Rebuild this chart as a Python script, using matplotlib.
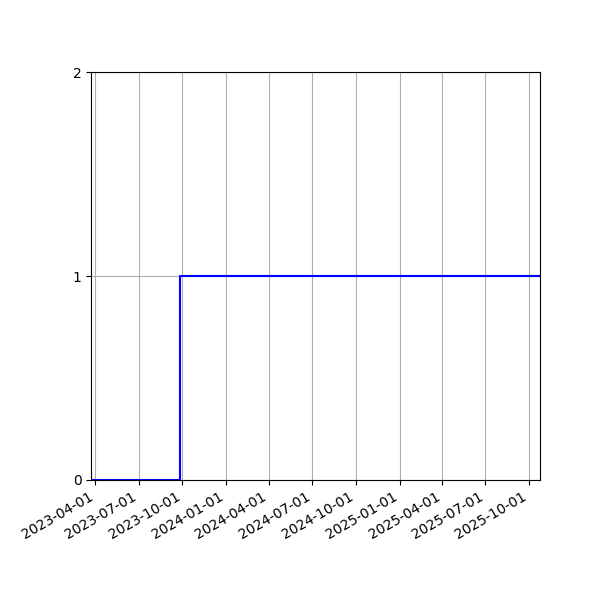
import matplotlib
matplotlib.use("Agg")
import matplotlib.pyplot as plt
import matplotlib.dates as mdates
import numpy as np

# step points: value holds until the next date
dates = np.array(["2023-03-23", "2023-09-27", "2025-10-24"], dtype="datetime64[D]")
values = [0, 1, 1]
y_ticks = [0, 1, 2]

fig, ax = plt.subplots(figsize=(6, 6), dpi=100)
ax.step(dates, values, where="post", color="blue")

ax.set_xlim(dates[0], dates[-1])
ax.set_ylim(0, 2)
ax.set_yticks(y_ticks)
ax.xaxis.set_major_locator(mdates.MonthLocator(bymonth=[1, 4, 7, 10]))
ax.xaxis.set_major_formatter(mdates.DateFormatter("%Y-%m-%d"))
ax.grid(True)

fig.autofmt_xdate()
fig.subplots_adjust(left=0.152, right=0.9, top=0.88, bottom=0.2)
fig.savefig("out.png", dpi=100)
